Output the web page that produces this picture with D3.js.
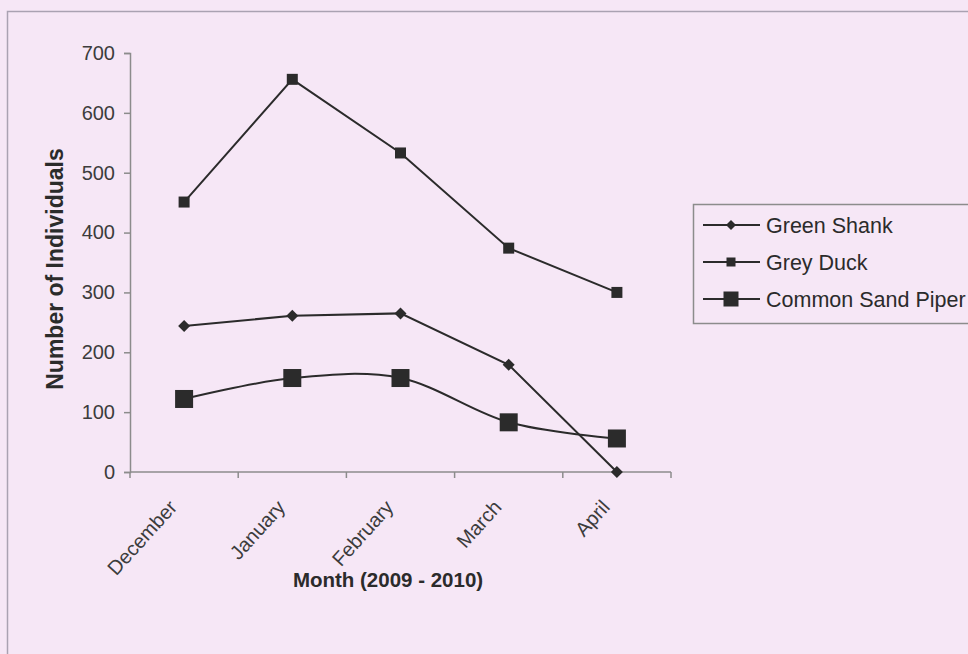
<!DOCTYPE html>
<html>
<head>
<meta charset="utf-8">
<script src="https://cdn.jsdelivr.net/npm/d3@7"></script>
<style>
    body { margin: 0; background: #f6e7f6; }
    svg { display: block; font-family: "Liberation Sans", Arial, sans-serif; }
</style>
</head>
<body>
<div id="chart"></div>
<script>
const months = ["December", "January", "February", "March", "April"];
const greenShank = [244, 261, 265, 179, 0];
const greyDuck = [451, 656, 533, 374, 300];
const sandPiper = [122, 157, 157, 83, 56];
const yTicks = [0, 100, 200, 300, 400, 500, 600, 700];
const seriesNames = ["Green Shank", "Grey Duck", "Common Sand Piper"];

const W = 968, H = 654;
const margin = { top: 53, right: 297, bottom: 182, left: 130 };
const width = W - margin.left - margin.right;
const height = H - margin.top - margin.bottom;
const ink = "#2b2b2b";

const root = d3.select("#chart")
    .append("svg")
    .attr("width", W)
    .attr("height", H);

// scanned page frame
root.append("rect")
    .attr("x", 7.5).attr("y", 11.5)
    .attr("width", W + 10).attr("height", H + 10)
    .attr("fill", "none")
    .attr("stroke", "#aaa2b2")
    .attr("stroke-width", 1.5);

const svg = root.append("g")
    .attr("transform", `translate(${margin.left},${margin.top})`);

const x = d3.scaleBand()
    .domain(months)
    .range([0, width]);

const y = d3.scaleLinear()
    .domain([0, 700])
    .range([height, 0]);

const cx = d => x(d) + x.bandwidth() / 2;

// y axis
const yAxis = svg.append("g")
    .call(d3.axisLeft(y).tickValues(yTicks).tickSize(6).tickPadding(9));
yAxis.select(".domain").attr("stroke", "#8c8c8c").attr("stroke-width", 1.5);
yAxis.selectAll(".tick line").attr("stroke", "#8c8c8c").attr("stroke-width", 1.5);
yAxis.selectAll(".tick text")
    .attr("fill", "#3c3c3c")
    .style("font-size", "20px");

// x axis, ticks between categories
const xAxis = svg.append("g")
    .attr("transform", `translate(0,${height})`);
xAxis.append("line")
    .attr("x1", 0).attr("x2", width)
    .attr("stroke", "#8c8c8c").attr("stroke-width", 1.5);
xAxis.selectAll("line.tk")
    .data(months.concat(["end"]))
    .enter().append("line")
    .attr("class", "tk")
    .attr("x1", (d, i) => i * x.bandwidth())
    .attr("x2", (d, i) => i * x.bandwidth())
    .attr("y1", 0).attr("y2", 6)
    .attr("stroke", "#8c8c8c").attr("stroke-width", 1.5);
xAxis.selectAll("text")
    .data(months)
    .enter().append("text")
    .attr("text-anchor", "end")
    .attr("transform", d => `translate(${cx(d) - 6},${36}) rotate(-48)`)
    .attr("fill", "#3c3c3c")
    .style("font-size", "20px")
    .text(d => d);

// axis titles
svg.append("text")
    .attr("text-anchor", "middle")
    .attr("transform", "rotate(-90)")
    .attr("x", -(269 - margin.top))
    .attr("y", 63 - margin.left)
    .attr("fill", "#2b2b2b")
    .style("font-size", "23px")
    .style("font-weight", "bold")
    .text("Number of Individuals");

svg.append("text")
    .attr("text-anchor", "middle")
    .attr("x", 388 - margin.left)
    .attr("y", height + 115)
    .attr("fill", "#2b2b2b")
    .style("font-size", "20.5px")
    .style("font-weight", "bold")
    .text("Month (2009 - 2010)");

// lines
const straight = d3.line()
    .x((d, i) => cx(months[i]))
    .y(d => y(d));
const smooth = d3.line()
    .x((d, i) => cx(months[i]))
    .y(d => y(d))
    .curve(d3.curveCardinal.tension(0));

const series = [
    { name: seriesNames[0], values: greenShank, line: straight, marker: "diamond", size: 6 },
    { name: seriesNames[1], values: greyDuck, line: straight, marker: "square", size: 11 },
    { name: seriesNames[2], values: sandPiper, line: smooth, marker: "square", size: 18 }
];

function drawMarker(g, type, size) {
    if (type === "diamond") {
        g.append("path")
            .attr("d", `M0,${-size}L${size},0L0,${size}L${-size},0Z`)
            .attr("fill", ink);
    } else {
        g.append("rect")
            .attr("x", -size / 2).attr("y", -size / 2)
            .attr("width", size).attr("height", size)
            .attr("fill", ink);
    }
}

series.forEach(s => {
    svg.append("path")
        .datum(s.values)
        .attr("fill", "none")
        .attr("stroke", ink)
        .attr("stroke-width", 2)
        .attr("d", s.line);

    s.values.forEach((v, i) => {
        const g = svg.append("g")
            .attr("transform", `translate(${cx(months[i])},${y(v)})`);
        drawMarker(g, s.marker, s.size);
    });
});

// legend
const legend = root.append("g").attr("transform", "translate(693,204)");
legend.append("rect")
    .attr("x", 0.5).attr("y", 0.5)
    .attr("width", 300).attr("height", 119)
    .attr("fill", "#f6e7f6")
    .attr("stroke", "#8c8c8c")
    .attr("stroke-width", 1.5);

const legendSizes = [5, 9, 15];
series.forEach((s, i) => {
    const row = legend.append("g").attr("transform", `translate(0,${21 + i * 37})`);
    row.append("line")
        .attr("x1", 10).attr("x2", 67)
        .attr("stroke", ink).attr("stroke-width", 2);
    const m = row.append("g").attr("transform", "translate(38,0)");
    drawMarker(m, s.marker, legendSizes[i]);
    row.append("text")
        .attr("x", 73)
        .attr("y", 7.5)
        .attr("fill", "#2b2b2b")
        .style("font-size", "21.5px")
        .text(s.name);
});
</script>
</body>
</html>
